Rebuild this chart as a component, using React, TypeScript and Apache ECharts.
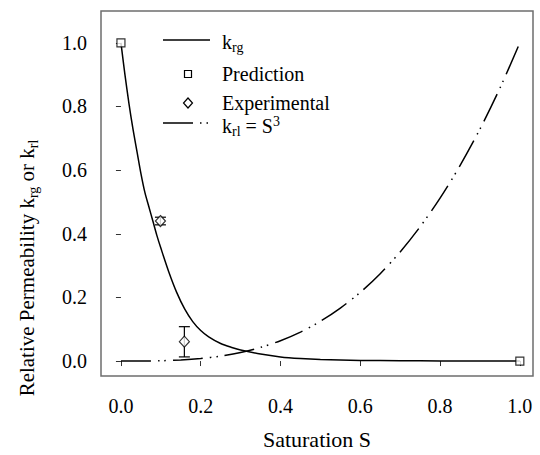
import React, { useEffect, useRef } from "react";
import * as echarts from "echarts";

// k_rg curve
const krgS = [0, 0.01, 0.02, 0.03, 0.04, 0.05, 0.06, 0.07, 0.08, 0.09, 0.1, 0.12, 0.14, 0.16, 0.18, 0.2, 0.22, 0.25, 0.28, 0.3, 0.35, 0.4, 0.45, 0.5, 0.6, 0.7, 0.8, 0.9, 1.0];
const krgV = [1.0, 0.9, 0.81, 0.73, 0.66, 0.59, 0.53, 0.485, 0.44, 0.395, 0.355, 0.28, 0.215, 0.163, 0.124, 0.096, 0.076, 0.055, 0.042, 0.035, 0.022, 0.013, 0.008, 0.005, 0.002, 0.001, 0.0005, 0.0002, 0.0];
// k_rl = S^3 curve
const krlS = [0, 0.05, 0.1, 0.15, 0.2, 0.25, 0.3, 0.35, 0.4, 0.45, 0.5, 0.55, 0.6, 0.65, 0.7, 0.75, 0.8, 0.85, 0.9, 0.95, 1.0];
const krlV = [0, 0.0001, 0.001, 0.0034, 0.008, 0.0156, 0.027, 0.0429, 0.064, 0.0911, 0.125, 0.1664, 0.216, 0.2746, 0.343, 0.4219, 0.512, 0.6141, 0.729, 0.8574, 1.0];
// Prediction points
const predS = [0, 1];
const predV = [1, 0];
// Experimental points with error bars
const expS = [0.099, 0.159];
const expV = [0.44, 0.061];
const expLow = [0.428, 0.013];
const expHigh = [0.452, 0.108];
// Tick labels
const xTicks = [0, 0.2, 0.4, 0.6, 0.8, 1.0];
const yTicks = [0, 0.2, 0.4, 0.6, 0.8, 1.0];

const FONT = "Liberation Serif";
const DASH = [30, 7, 1.5, 5, 1.5, 7];

const rich = {
  sub: { fontSize: 14, lineHeight: 14, verticalAlign: "bottom", fontFamily: FONT, fill: "#000", color: "#000" },
  sup: { fontSize: 14, lineHeight: 14, verticalAlign: "top", fontFamily: FONT, fill: "#000", color: "#000" },
};

export default function App() {
  const ref = useRef<HTMLDivElement>(null);
  useEffect(() => {
    if (!ref.current) return;
    const chart = echarts.init(ref.current, undefined, { renderer: "svg" });
    const legendX = 163;
    const textX = 222;
    const option: any = {
      animation: false,
      backgroundColor: "#fff",
      textStyle: { fontFamily: FONT },
      grid: {
        left: 101,
        right: 7,
        top: 11,
        bottom: 79,
        show: true,
        borderColor: "#6e6e6e",
        borderWidth: 1.5,
        containLabel: false,
      },
      xAxis: {
        type: "value",
        min: -0.05,
        max: 1.033,
        name: "Saturation S",
        nameLocation: "middle",
        nameGap: 52,
        nameTextStyle: { fontFamily: FONT, fontSize: 22, color: "#000" },
        axisLine: { show: false },
        splitLine: { show: false },
        axisTick: { show: true, inside: false, length: 5, customValues: xTicks, lineStyle: { color: "#333", width: 1 } },
        axisLabel: {
          customValues: xTicks,
          margin: 20,
          fontFamily: FONT,
          fontSize: 20,
          color: "#000",
          formatter: (v: number) => v.toFixed(1),
        },
      },
      yAxis: {
        type: "value",
        min: -0.047,
        max: 1.1,
        axisLine: { show: false },
        splitLine: { show: false },
        axisTick: { show: true, inside: false, length: 5, customValues: yTicks, lineStyle: { color: "#333", width: 1 } },
        axisLabel: {
          customValues: yTicks,
          margin: 14,
          fontFamily: FONT,
          fontSize: 20,
          color: "#000",
          formatter: (v: number) => v.toFixed(1),
        },
      },
      series: [
        {
          name: "krg",
          type: "line",
          data: krgS.map((s, i) => [s, krgV[i]]),
          showSymbol: false,
          symbol: "none",
          smooth: 0.3,
          lineStyle: { color: "#000", width: 1.5 },
          z: 2,
        },
        {
          name: "krl",
          type: "line",
          data: krlS.map((s, i) => [s, krlV[i]]),
          showSymbol: false,
          symbol: "none",
          smooth: 0.3,
          lineStyle: { color: "#000", width: 1.5, type: DASH },
          z: 2,
        },
        {
          name: "errors",
          type: "custom",
          data: expS.map((s, i) => [s, expLow[i], expHigh[i]]),
          encode: { x: 0, y: [1, 2] },
          z: 3,
          renderItem: (params: any, api: any) => {
            const x = api.value(0);
            const lo = api.coord([x, api.value(1)]);
            const hi = api.coord([x, api.value(2)]);
            const half = 5.5;
            const st = { stroke: "#000", lineWidth: 1.2 };
            return {
              type: "group",
              children: [
                { type: "line", shape: { x1: lo[0], y1: lo[1], x2: hi[0], y2: hi[1] }, style: st },
                { type: "line", shape: { x1: hi[0] - half, y1: hi[1], x2: hi[0] + half, y2: hi[1] }, style: st },
                { type: "line", shape: { x1: lo[0] - half, y1: lo[1], x2: lo[0] + half, y2: lo[1] }, style: st },
              ],
            };
          },
        },
        {
          name: "Prediction",
          type: "scatter",
          data: predS.map((s, i) => [s, predV[i]]),
          symbol: "rect",
          symbolSize: 8,
          itemStyle: { color: "#fff", borderColor: "#000", borderWidth: 1.2 },
          z: 5,
        },
        {
          name: "Experimental",
          type: "scatter",
          data: expS.map((s, i) => [s, expV[i]]),
          symbol: "diamond",
          symbolSize: [10, 11],
          itemStyle: { color: "#fff", borderColor: "#000", borderWidth: 1.2 },
          z: 5,
        },
      ],
      graphic: [
        {
          type: "text",
          x: 27,
          y: 268,
          rotation: Math.PI / 2,
          style: {
            text: "Relative Permeability k{sub|rg} or k{sub|rl}",
            fontFamily: FONT,
            fontSize: 21,
            lineHeight: 26,
            fill: "#000",
            align: "center",
            verticalAlign: "middle",
            rich,
          },
        },
        // legend
        { type: "line", shape: { x1: legendX, y1: 40, x2: legendX + 47, y2: 40 }, style: { stroke: "#000", lineWidth: 1.5 } },
        {
          type: "text",
          x: textX,
          y: 42,
          style: { text: "k{sub|rg}", fontFamily: FONT, fontSize: 20, lineHeight: 24, fill: "#000", align: "left", verticalAlign: "middle", rich },
        },
        { type: "rect", shape: { x: 184.5, y: 70.5, width: 7, height: 7 }, style: { fill: "#fff", stroke: "#000", lineWidth: 1.2 } },
        {
          type: "text",
          x: textX,
          y: 74,
          style: { text: "Prediction", fontFamily: FONT, fontSize: 20, fill: "#000", align: "left", verticalAlign: "middle" },
        },
        {
          type: "polygon",
          shape: { points: [[188, 98], [192.5, 103], [188, 108], [183.5, 103]] },
          style: { fill: "#fff", stroke: "#000", lineWidth: 1.2 },
        },
        {
          type: "text",
          x: textX,
          y: 103,
          style: { text: "Experimental", fontFamily: FONT, fontSize: 20, fill: "#000", align: "left", verticalAlign: "middle" },
        },
        { type: "line", shape: { x1: legendX, y1: 123, x2: legendX + 47, y2: 123 }, style: { stroke: "#000", lineWidth: 1.5, lineDash: DASH } },
        {
          type: "text",
          x: textX,
          y: 126,
          style: { text: "k{sub|rl} = S{sup|3}", fontFamily: FONT, fontSize: 20, lineHeight: 24, fill: "#000", align: "left", verticalAlign: "middle", rich },
        },
      ],
    };
    chart.setOption(option);
    return () => chart.dispose();
  }, []);
  return <div ref={ref} style={{ position: "fixed", left: 0, top: 0, width: 540, height: 455 }} />;
}
